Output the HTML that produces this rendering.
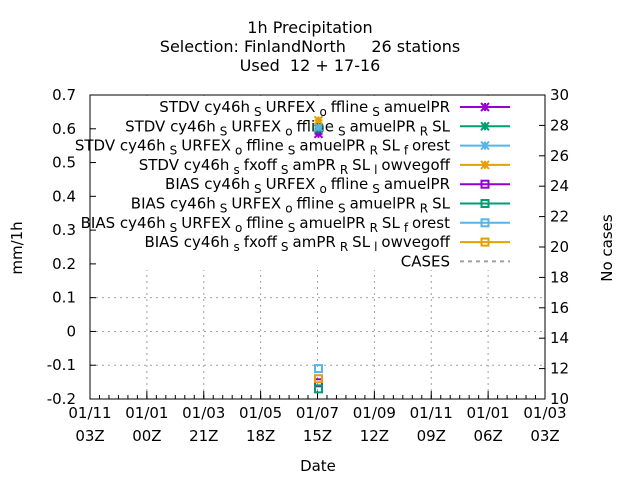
<!DOCTYPE html>
<html><head><meta charset="utf-8"><style>
body{margin:0;background:#fff}
svg text{font-family:"DejaVu Sans","Liberation Sans",sans-serif;fill:#000;white-space:pre}
</style></head><body>
<svg width="640" height="480" id="c">
<g font-size="16" text-anchor="middle">
<text x="310" y="33">1h Precipitation</text>
<text x="310" y="52" xml:space="preserve">Selection: FinlandNorth     26 stations</text>
<text x="310" y="71" xml:space="preserve">Used  12 + 17-16</text>
</g>
<g id="grid"></g>
<rect x="91" y="96" width="453" height="174" fill="#fff"/>
<g id="axes"></g>
<g id="legend"></g>
<g id="marks"></g>
<text x="22" y="248" font-size="15" text-anchor="middle" transform="rotate(-90 22 248)">mm/1h</text>
<text x="612" y="248" font-size="15" text-anchor="middle" transform="rotate(-90 612 248)">No cases</text>
<text x="318" y="471" font-size="15" text-anchor="middle">Date</text>
</svg>
<script>
const yTicks=[-0.2,-0.1,0,0.1,0.2,0.3,0.4,0.5,0.6,0.7];
const yTickLabels=["-0.2","-0.1","0","0.1","0.2","0.3","0.4","0.5","0.6","0.7"];
const y2Ticks=[10,12,14,16,18,20,22,24,26,28,30];
const xTickLabels1=["01/11","01/01","01/03","01/05","01/07","01/09","01/11","01/01","01/03"];
const xTickLabels2=["03Z","00Z","21Z","18Z","15Z","12Z","09Z","06Z","03Z"];
const seriesNames=["STDV cy46h|S|URFEX|o|ffline|S|amuelPR","STDV cy46h|S|URFEX|o|ffline|S|amuelPR|R|SL","STDV cy46h|S|URFEX|o|ffline|S|amuelPR|R|SL|f|orest","STDV cy46h|s|fxoff|S|amPR|R|SL|l|owvegoff","BIAS cy46h|S|URFEX|o|ffline|S|amuelPR","BIAS cy46h|S|URFEX|o|ffline|S|amuelPR|R|SL","BIAS cy46h|S|URFEX|o|ffline|S|amuelPR|R|SL|f|orest","BIAS cy46h|s|fxoff|S|amPR|R|SL|l|owvegoff"];
const seriesColors=["#9400d3","#009e73","#56b4e9","#e69f00","#9400d3","#009e73","#56b4e9","#e69f00"];
const seriesX=[4,4,4,4,4,4,4,4];
const seriesValues=[0.585,0.6,0.605,0.625,-0.152,-0.17,-0.11,-0.14];
const L=90,R=545,T=95,B=399;
const ys=v=>B-(v+0.2)/0.9*(B-T);
const y2s=v=>B-(v-10)/20*(B-T);
const xs=i=>L+i*(R-L)/8;
const NS="http://www.w3.org/2000/svg";
function mk(p,t,a){const e=document.createElementNS(NS,t);for(const k in a)e.setAttribute(k,a[k]);p.appendChild(e);return e;}
const grid=document.getElementById('grid'),axes=document.getElementById('axes'),leg=document.getElementById('legend'),marks=document.getElementById('marks');
yTicks.forEach((v,i)=>{const y=ys(v);
 if(i>0&&i<yTicks.length-1){const g=mk(grid,'line',{x1:L,x2:R,y1:y,y2:y,stroke:'#a0a0a0','stroke-dasharray':'2,4'});
 
 }
 mk(axes,'line',{x1:L,x2:L+6,y1:y,y2:y,stroke:'#000'});
 const t=mk(axes,'text',{x:L-14,y:y+5,'font-size':15,'text-anchor':'end'});t.textContent=yTickLabels[i];
 
 });
y2Ticks.forEach(v=>{const y=y2s(v);mk(axes,'line',{x1:R-6,x2:R,y1:y,y2:y,stroke:'#000'});
 const t=mk(axes,'text',{x:R+5,y:y+5,'font-size':15});t.textContent=v;
 
 });
xTickLabels1.forEach((s,i)=>{const x=xs(i);
 if(i>0&&i<8){const g=mk(grid,'line',{x1:x,x2:x,y1:T,y2:B,stroke:'#a0a0a0','stroke-dasharray':'2,4'});
 
 }
 mk(axes,'line',{x1:x,x2:x,y1:B,y2:B-8,stroke:'#000'});
 const t=mk(axes,'text',{x:x,y:418,'font-size':15,'text-anchor':'middle'});t.textContent=s;
 
 
 const t2=mk(axes,'text',{x:x,y:441,'font-size':15,'text-anchor':'middle'});t2.textContent=xTickLabels2[i];
 
 });
for(let i=0;i<8*6;i++){const x=L+i*(R-L)/48;mk(axes,'line',{x1:x,x2:x,y1:B,y2:B-4,stroke:'#000'});}
mk(axes,'rect',{x:L,y:T,width:R-L,height:B-T,fill:'none',stroke:'#000'});
function star(p,x,y,c){mk(p,'path',{d:`M${x-4},${y-4}L${x+4},${y+4}M${x-4},${y+4}L${x+4},${y-4}M${x-4},${y}L${x+4},${y}M${x},${y-4}L${x},${y+4}`,stroke:c,'stroke-width':2});}
function sq(p,x,y,c){mk(p,'rect',{x:x-3.5,y:y-3.5,width:7,height:7,fill:'none',stroke:c,'stroke-width':2});}
seriesNames.forEach((n,i)=>{const y=107+i*19.3;
 const g=mk(leg,'g',{});
 
 
 const parts=n.split('|');const t=mk(g,'text',{x:450,y:y+5,'font-size':15,'text-anchor':'end'});
 parts.forEach((p,k)=>{const ts=mk(t,'tspan',{});ts.textContent=p;if(k%2==1){ts.setAttribute('font-size','12');ts.setAttribute('dy','4');ts.setAttribute('dx','4');}else if(k>0){ts.setAttribute('dy','-4');ts.setAttribute('dx','4');}});
 mk(g,'line',{x1:460,x2:510,y1:y,y2:y,stroke:seriesColors[i],'stroke-width':2});
 (i<4?star:sq)(g,485,y,seriesColors[i]);});
{const y=107+8*19.3;const g=mk(leg,'g',{});
 
 
 const t=mk(g,'text',{x:450,y:y+5,'font-size':15,'text-anchor':'end'});t.textContent='CASES';
 mk(g,'line',{x1:460,x2:510,y1:y,y2:y,stroke:'#a0a0a0','stroke-width':2,'stroke-dasharray':'4,4'});}
seriesValues.forEach((v,i)=>{const g=mk(marks,'g',{});
 
 
 (i<4?star:sq)(g,xs(seriesX[i])+1,ys(v),seriesColors[i]);});
</script>
</body></html>
